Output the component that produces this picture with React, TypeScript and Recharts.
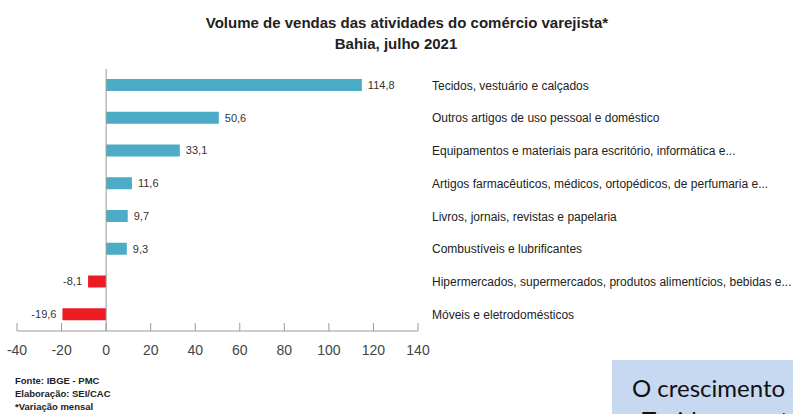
import { BarChart, Bar, XAxis, YAxis, Cell, ReferenceLine, LabelList } from 'recharts';

const categories = [
  'Tecidos, vestuário e calçados',
  'Outros artigos de uso pessoal e doméstico',
  'Equipamentos e materiais para escritório, informática e...',
  'Artigos farmacêuticos,  médicos, ortopédicos, de perfumaria e...',
  'Livros, jornais, revistas e papelaria',
  'Combustíveis e lubrificantes',
  'Hipermercados, supermercados, produtos alimentícios, bebidas e...',
  'Móveis e eletrodomésticos',
];
const values = [114.8, 50.6, 33.1, 11.6, 9.7, 9.3, -8.1, -19.6];
const xTicks = [-40, -20, 0, 20, 40, 60, 80, 100, 120, 140];

const data = categories.map((name, i) => ({ name, value: values[i] }));

const FONT = '"Liberation Sans", Arial, sans-serif';

const ValueLabel = (props: any) => {
  const { x, y, width, height, value } = props;
  const neg = value < 0;
  const tx = neg ? x + width - 6 : x + width + 6;
  return (
    <text
      x={tx}
      y={y + height / 2}
      dy="0.35em"
      textAnchor={neg ? 'end' : 'start'}
      fontSize={11}
      fontFamily={FONT}
      fill="#333"
    >
      {value.toFixed(1).replace('.', ',')}
    </text>
  );
};

// category label to the right, single line
const CatTick = (props: any) => {
  const { x, y, payload } = props;
  return (
    <text x={x} y={y} dy="0.35em" textAnchor="start" fontSize={12} fontFamily={FONT} fill="#222">
      {payload.value}
    </text>
  );
};

export default function App() {
  return (
    <div style={{ position: 'absolute', left: 0, top: 0, width: 797, height: 414, overflow: 'hidden', background: '#fff', fontFamily: FONT }}>
      <div style={{ position: 'absolute', left: 0, width: 814, top: 13, textAlign: 'center', fontWeight: 'bold', fontSize: 15, color: '#222', lineHeight: '20px' }}>
        Volume de vendas das atividades do comércio varejista*
      </div>
      <div style={{ position: 'absolute', left: 0, width: 792, top: 34, textAlign: 'center', fontWeight: 'bold', fontSize: 15, color: '#222', lineHeight: '20px' }}>
        Bahia, julho 2021
      </div>
      <div style={{ position: 'absolute', left: 0, top: 0 }}>
        <BarChart
          width={797}
          height={414}
          data={data}
          layout="vertical"
          margin={{ top: 69, right: 0, bottom: 0, left: 17 }}
          barSize={12}
        >
          <XAxis
            type="number"
            domain={[-40, 140]}
            ticks={xTicks}
            height={83}
            tickSize={-8}
            tickMargin={22}
            stroke="#999"
            tick={{ fill: '#444', fontSize: 14, fontFamily: FONT }}
          />
          <YAxis
            type="category"
            dataKey="name"
            orientation="right"
            width={379}
            tickLine={false}
            axisLine={false}
            tickSize={0}
            tickMargin={14}
            tick={CatTick}
          />
          <ReferenceLine x={0} stroke="#999" />
          <Bar dataKey="value" isAnimationActive={false}>
            {data.map((d, i) => (
              <Cell key={i} fill={d.value < 0 ? '#ED1C24' : '#4BACC6'} />
            ))}
            <LabelList dataKey="value" content={ValueLabel} />
          </Bar>
        </BarChart>
      </div>
      <div style={{ position: 'absolute', left: 15, top: 374, fontSize: 9.5, fontWeight: 'bold', color: '#222', lineHeight: '13px' }}>
        <div>Fonte: IBGE - PMC</div>
        <div>Elaboração: SEI/CAC</div>
        <div>*Variação mensal</div>
      </div>
      <div style={{ position: 'absolute', left: 612, top: 360, width: 181, height: 60, background: '#C6D9F1', fontFamily: 'Lato, sans-serif', fontSize: 24, color: '#111', lineHeight: '28px', whiteSpace: 'nowrap', overflow: 'hidden' }}>
        <div style={{ position: 'absolute', left: 20, top: 14 }}>O crescimento</div>
        <div style={{ position: 'absolute', left: 30, top: 46 }}>Tecidos e vestuário</div>
      </div>
    </div>
  );
}
